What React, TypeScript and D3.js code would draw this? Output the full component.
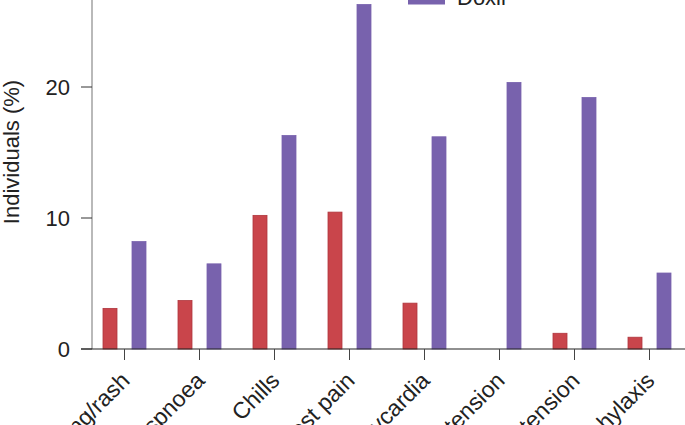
import React from "react";
import * as d3 from "d3";

const categories = ["Flushing/rash", "Dyspnoea", "Chills", "Chest pain", "Tachycardia", "Hypotension", "Hypertension", "Anaphylaxis"];
const series = ["Other", "Doxil"];
const otherValues = [3.1, 3.7, 10.2, 10.45, 3.5, 0, 1.2, 0.9];
const doxilValues = [8.2, 6.5, 16.3, 26.3, 16.2, 20.35, 19.2, 5.8];
const yTicks = [0, 10, 20];
const colors = ["#c9454b", "#7862ad"];

const W = 685;
const H = 425;
const FONT = "'Liberation Sans', Arial, Helvetica, sans-serif";

export default function App() {
  const y = d3.scaleLinear().domain([0, 30]).range([349, -44]);
  const x = d3.scaleBand<string>().domain(categories).range([87, 87 + 75 * categories.length]).paddingInner(0);
  const sub = d3.scaleBand<string>().domain(series).range([-21.5, 21.5]).paddingInner(15 / 29).paddingOuter(0);
  const values = [otherValues, doxilValues];
  const base = y(0);

  return (
    <div style={{ position: "absolute", left: 0, top: 0 }}>
      <svg width={W} height={H} style={{ display: "block", fontFamily: FONT }}>
        <rect width={W} height={H} fill="#fff" />
        {/* bars */}
        {series.map((s, si) =>
          categories.map((c, ci) => {
            const v = values[si][ci];
            if (v <= 0) return null;
            const cx = (x(c) as number) + x.bandwidth() / 2;
            const bx = cx + (sub(s) as number);
            return (
              <rect
                key={s + c}
                x={bx}
                y={y(v)}
                width={sub.bandwidth()}
                height={base - y(v)}
                fill={colors[si]}
                stroke={si === 0 ? "#b0363d" : "#7862ad"}
                strokeWidth={0.8}
              />
            );
          })
        )}
        {/* y axis */}
        <line x1={92} x2={92} y1={base} y2={y(30)} stroke="#8a8a8a" strokeWidth={1.2} />
        {yTicks.map((t) => (
          <g key={t}>
            <line x1={81} x2={92} y1={y(t)} y2={y(t)} stroke="#333" strokeWidth={1} />
            <text x={70} y={y(t)} dy={8} textAnchor="end" fontSize={22} fill="#222">
              {t}
            </text>
          </g>
        ))}
        <text transform={`translate(18.5,152) rotate(-90)`} textAnchor="middle" fontSize={22} fill="#222">
          Individuals (%)
        </text>
        {/* x axis */}
        <line x1={81} x2={W} y1={base} y2={base} stroke="#222" strokeWidth={1.2} />
        {categories.map((c) => {
          const cx = (x(c) as number) + x.bandwidth() / 2;
          return (
            <g key={c}>
              <line x1={cx} x2={cx} y1={base} y2={base + 11} stroke="#444" strokeWidth={1} />
              <text transform={`translate(${cx + 6.5},382) rotate(-45)`} textAnchor="end" fontSize={23} fill="#222">
                {c}
              </text>
            </g>
          );
        })}
        {/* legend */}
        {series.map((s, si) => (
          <g key={s} transform={`translate(408,${-9.5 - (series.length - 1 - si) * 26})`}>
            <rect width={37} height={14} fill={colors[si]} />
            <text x={49} y={14.5} fontSize={22} fill="#222">
              {s}
            </text>
          </g>
        ))}
      </svg>
    </div>
  );
}
